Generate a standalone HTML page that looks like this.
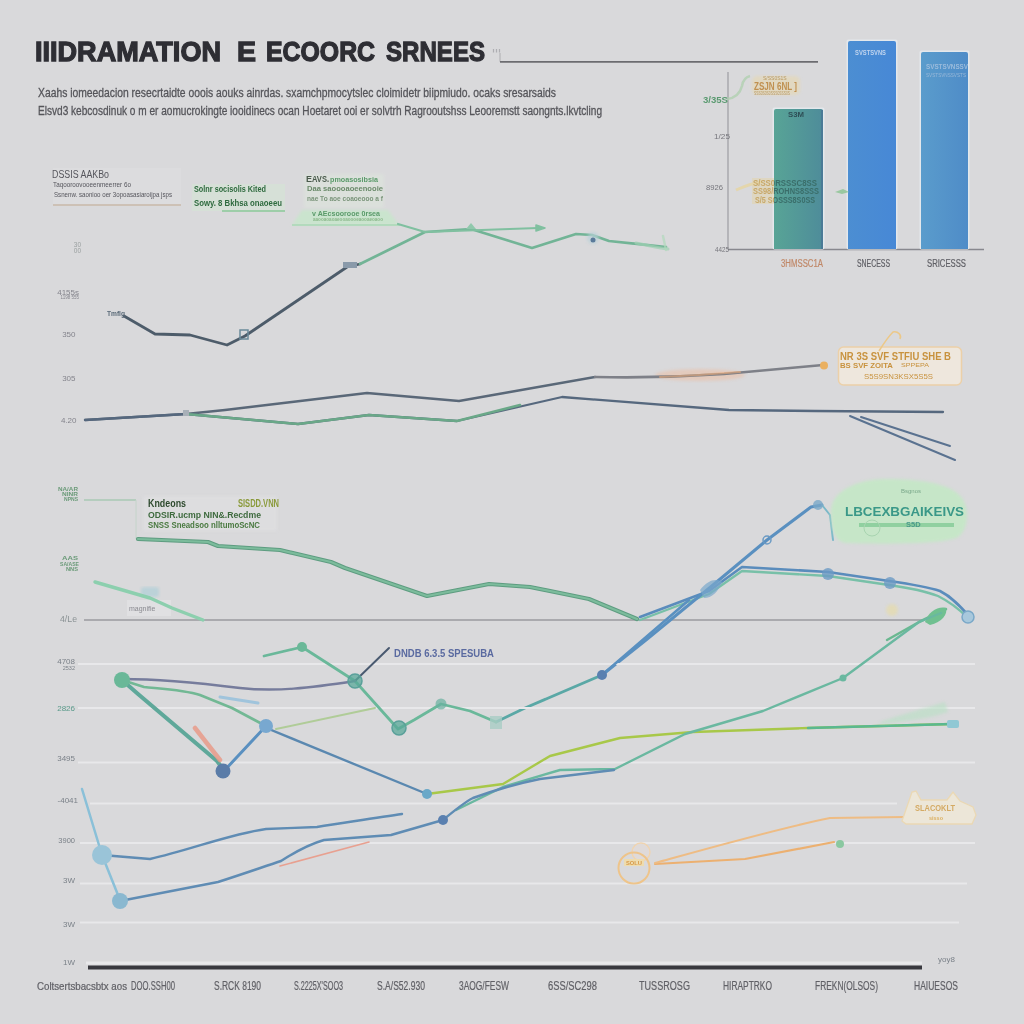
<!DOCTYPE html>
<html><head><meta charset="utf-8">
<style>
html,body{margin:0;padding:0;background:#d9d9db;}
body{width:1024px;height:1024px;overflow:hidden;}
svg{display:block;filter:blur(0.35px);}
text{font-family:"Liberation Sans",sans-serif;}
</style></head>
<body>
<svg width="1024" height="1024" viewBox="0 0 1024 1024">
<defs>
<filter id="soft" x="-10%" y="-10%" width="120%" height="120%"><feGaussianBlur stdDeviation="1.5"/></filter>
<filter id="b05" x="-5%" y="-5%" width="110%" height="110%"><feGaussianBlur stdDeviation="0.55"/></filter>
<linearGradient id="gTeal" x1="0" x2="1" y1="0" y2="0"><stop offset="0" stop-color="#58a496"/><stop offset="1" stop-color="#4e8c9a"/></linearGradient>
<linearGradient id="gBlue1" x1="0" x2="1" y1="0" y2="0"><stop offset="0" stop-color="#4c8ed2"/><stop offset="1" stop-color="#4788d6"/></linearGradient>
<linearGradient id="gBlue2" x1="0" x2="1" y1="0" y2="0"><stop offset="0" stop-color="#5a9ccc"/><stop offset="1" stop-color="#4f8cc8"/></linearGradient>
</defs>
<rect width="1024" height="1024" fill="#d9d9db"/>

<!-- TITLE -->
<g font-weight="bold" fill="#2e2e34" stroke="#2e2e34" stroke-width="1.3" font-size="28.5">
<text x="35" y="61" textLength="186" lengthAdjust="spacingAndGlyphs">IIIDRAMATION</text>
<text x="237" y="61" textLength="19" lengthAdjust="spacingAndGlyphs">E</text>
<text x="266" y="61" textLength="109" lengthAdjust="spacingAndGlyphs">ECOORC</text>
<text x="386" y="61" textLength="99" lengthAdjust="spacingAndGlyphs">SRNEES</text>
</g>
<path d="M493.5 49 V52.5 M496.5 49 V52.5 M499.5 49 V52.5" stroke="#aeaeb2" stroke-width="1.2" fill="none"/>
<path d="M500 53 V61.8" stroke="#b4b4b8" stroke-width="1.2" fill="none"/>
<path d="M500 61.8 H818" stroke="#6c6c70" stroke-width="1.7" fill="none"/>

<!-- SUBTITLE -->
<g fill="#55555a" stroke="#55555a" stroke-width="0.3" font-size="12.5">
<text x="38" y="97" textLength="518" lengthAdjust="spacingAndGlyphs">Xaahs iomeedacion resecrtaidte ooois aouks ainrdas. sxamchpmocytslec cloimidetr biipmiudo. ocaks sresarsaids</text>
<text x="38" y="115" textLength="564" lengthAdjust="spacingAndGlyphs">Elsvd3 kebcosdinuk o m er aomucrokingte iooidinecs ocan Hoetaret ooi er solvtrh Ragrooutshss Leooremstt saongnts.lkvtcling</text>
</g>

<!-- BAR CHART -->
<path d="M728 72 V249.5" stroke="#9c9ca2" stroke-width="1.2" fill="none"/>
<path d="M728 249.5 H984" stroke="#88888e" stroke-width="1.6" fill="none"/>
<g fill="#e4e8ec" filter="url(#b05)">
<rect x="772.5" y="107.5" width="52" height="142" rx="2"/>
<rect x="846.5" y="39.5" width="51" height="210" rx="2"/>
<rect x="919.5" y="50.5" width="50" height="199" rx="2"/>
</g>
<path d="M774 249 V111 Q774 109 776 109 H821 Q823 109 823 111 V249 Z" fill="url(#gTeal)"/>
<rect x="821" y="110" width="2" height="139" fill="#4a7a96"/>
<path d="M848 249 V43 Q848 41 850 41 H894 Q896 41 896 43 V249 Z" fill="url(#gBlue1)"/>
<path d="M921 249 V54 Q921 52 923 52 H966 Q968 52 968 54 V249 Z" fill="url(#gBlue2)"/>
<g font-size="8" fill="#76767c">
<text x="714" y="139" textLength="16" lengthAdjust="spacingAndGlyphs">1/25</text>
<text x="706" y="190" textLength="17" lengthAdjust="spacingAndGlyphs">8926</text>
<text x="715" y="252" textLength="14" lengthAdjust="spacingAndGlyphs">4425</text>
</g>
<g font-size="10" fill="#606066" stroke="#606066" stroke-width="0.2">
<text x="781" y="267" fill="#c08868" stroke="#c08868" textLength="42" lengthAdjust="spacingAndGlyphs">3HMSSC1A</text>
<text x="857" y="267" textLength="33" lengthAdjust="spacingAndGlyphs">SNECESS</text>
<text x="927" y="267" textLength="39" lengthAdjust="spacingAndGlyphs">SRICESSS</text>
</g>
<path d="M727 99 C735 98 740 94 742 86 C743 80 746 77 750 76" stroke="#b0d0b0" stroke-width="2.5" fill="none" opacity="0.8"/>
<text x="703" y="103" font-size="9.5" font-weight="bold" fill="#5a9a70" textLength="25" lengthAdjust="spacingAndGlyphs">3/35S</text>
<rect x="752" y="76" width="48" height="19" rx="5" fill="#e8d8ac" opacity="0.55" filter="url(#soft)"/>
<text x="763" y="80" font-size="5" fill="#b89860">S/SS0S1S</text>
<text x="754" y="90" font-size="10" font-weight="bold" fill="#c09050" textLength="43" lengthAdjust="spacingAndGlyphs">ZSJN 6NL ]</text>
<text x="754" y="94.5" font-size="5" fill="#b89860" textLength="36" lengthAdjust="spacingAndGlyphs">SSS0S0S0SSS0SSS0S</text>
<text x="788" y="117" font-size="8" font-weight="bold" fill="#2e4e56" textLength="16" lengthAdjust="spacingAndGlyphs">S3M</text>
<text x="855" y="55" font-size="8" font-weight="bold" fill="#c0d4ee" textLength="31" lengthAdjust="spacingAndGlyphs">SVSTSVNS</text>
<text x="926" y="69" font-size="8" font-weight="bold" fill="#9cbcdc" textLength="42" lengthAdjust="spacingAndGlyphs">SVSTSVNSSV</text>
<text x="926" y="77" font-size="6" fill="#98b8d8" textLength="40" lengthAdjust="spacingAndGlyphs">SVSTSVNSSVSTS</text>
<clipPath id="cBar"><rect x="774" y="109" width="49" height="140"/></clipPath>
<clipPath id="cOff"><rect x="700" y="150" width="74" height="70"/><rect x="823" y="150" width="30" height="70"/></clipPath>
<path d="M736 190 C745 186 752 183 762 182" stroke="#e6d4a0" stroke-width="3" fill="none" opacity="0.8"/>
<rect x="752" y="178" width="22" height="26" fill="#e4d4a8" opacity="0.5"/>
<g font-size="8.5" font-weight="bold">
<g fill="#c8a868" clip-path="url(#cOff)">
<text x="753" y="186" textLength="64" lengthAdjust="spacingAndGlyphs">S/SS0RSSSC8SS</text>
<text x="753" y="194" textLength="66" lengthAdjust="spacingAndGlyphs">SS98/ROHNS8SSS</text>
<text x="755" y="203" textLength="60" lengthAdjust="spacingAndGlyphs">S/5 SOSSS8S0SS</text>
</g>
<g fill="#3a6e6a" clip-path="url(#cBar)">
<text x="753" y="186" textLength="64" lengthAdjust="spacingAndGlyphs">S/SS0RSSSC8SS</text>
<text x="753" y="194" textLength="66" lengthAdjust="spacingAndGlyphs">SS98/ROHNS8SSS</text>
<text x="755" y="203" textLength="60" lengthAdjust="spacingAndGlyphs">S/5 SOSSS8S0SS</text>
</g>
</g>
<path d="M835 192 L843 189 L849 192 L842 194 Z" fill="#9ac8a0"/>

<!-- UPPER CHART -->
<g font-size="8" fill="#84848c" text-anchor="end">
<text x="81" y="247" font-size="6.5" fill="#9aa0a0">30</text>
<text x="81" y="253" font-size="6.5" fill="#9aa0a0">00</text>
<text x="79" y="295">4155s</text>
<text x="79" y="299" font-size="4.5">1198 555</text>
<text x="75.5" y="337">350</text>
<text x="75.5" y="381">305</text>
<text x="76.5" y="423">4.20</text>
</g>
<!-- annotation boxes -->
<rect x="53" y="168" width="128" height="37" fill="#dcdcde"/>
<rect x="192" y="184" width="93" height="27" fill="#d4e2d6" opacity="0.7"/>
<line x1="53" y1="205" x2="181" y2="205" stroke="#c8b8a8" stroke-width="1.5"/>
<g fill="#55555c">
<text x="52" y="178" font-size="10" textLength="57" lengthAdjust="spacingAndGlyphs">DSSIS AAKBo</text>
<text x="53" y="187" font-size="8" textLength="78" lengthAdjust="spacingAndGlyphs">Taqooroovooeenmeerrer 6o</text>
<text x="54" y="197" font-size="8" textLength="118" lengthAdjust="spacingAndGlyphs">Ssnenw. saonioo oer 3opoasasiaroijpa jsps</text>
</g>
<g fill="#2e6a3e" font-weight="bold">
<text x="194" y="192" font-size="9.5" textLength="72" lengthAdjust="spacingAndGlyphs">Solnr socisolis Kited</text>
<text x="194" y="206" font-size="9.5" textLength="88" lengthAdjust="spacingAndGlyphs">Sowy. 8 Bkhsa onaoeeu</text>
</g>
<line x1="222" y1="211" x2="285" y2="211" stroke="#8ac898" stroke-width="1.5"/>
<rect x="304" y="174" width="80" height="34" fill="#dce2dc" opacity="0.8" filter="url(#soft)"/>
<path d="M292,225 L302,210 L388,210 L399,225 Z" fill="#cae4ce" filter="url(#soft)"/>
<line x1="292" y1="225" x2="400" y2="225" stroke="#a8d8b4" stroke-width="1.6"/>
<g fill="#5a9a6a" font-size="7.5" font-weight="bold">
<text x="306" y="182" textLength="6" fill="#4a5a4c" font-size="9" lengthAdjust="spacingAndGlyphs">E</text>
<text x="312" y="182" textLength="17" fill="#4a5a4c" font-size="9" lengthAdjust="spacingAndGlyphs">AVS.</text>
<text x="330" y="182" textLength="48" lengthAdjust="spacingAndGlyphs">pmoasosibsia</text>
<text x="307" y="191" textLength="76" lengthAdjust="spacingAndGlyphs" fill="#6a8a6a">Daa saoooaoeenooie</text>
<text x="307" y="201" textLength="76" lengthAdjust="spacingAndGlyphs" fill="#7a947a">nae To aoe coaoeooo a f</text>
<text x="312" y="216" textLength="68" lengthAdjust="spacingAndGlyphs">v AEcsoorooe 0rsea</text>
<text x="313" y="221" font-size="5" textLength="70" lengthAdjust="spacingAndGlyphs" fill="#8ab88a">aaooaoaoaeooaoooeaooaeoaoo</text>
</g>

<!-- upper chart lines -->
<g fill="none" stroke-linejoin="round" stroke-linecap="round" filter="url(#b05)">
<polyline points="124,316 155,334 190,335 227,345 245,336 347,267 360,264" stroke="#4e5c6a" stroke-width="2.8"/>
<polyline points="360,264 425,232 471,229 532,248 576,234 592,235 609,241 666,247" stroke="#72b496" stroke-width="2.6"/>
<polyline points="398,224 425,232 538,228" stroke="#80c0a0" stroke-width="2.2"/>
<path d="M536,225 L545,228 L536,231 Z" fill="#80c0a0" stroke="#80c0a0" stroke-width="1.5"/>
<path d="M466,229 L471,223 L476,229 Z" fill="#90c8ac" stroke="none"/>
<path d="M636,243 C650,246 660,248 668,249" stroke="#a0d0b4" stroke-width="3" opacity="0.7"/>
<path d="M663,236 L666,250" stroke="#b0d8bc" stroke-width="2.5" opacity="0.7"/>
<!-- middle-upper pair -->
<polyline points="85,420 186,414 225,410 367,393 459,401 595,377" stroke="#5a6878" stroke-width="2.4"/>
<ellipse cx="700" cy="375" rx="45" ry="6" fill="#f0b898" stroke="none" opacity="0.45" filter="url(#soft)"/>
<path d="M595,377 C640,378 680,377 724,374 L823,365" stroke="#7e8088" stroke-width="2.6"/>
<path d="M660,377 C690,376 710,374 740,372" stroke="#e8a878" stroke-width="2" opacity="0.6"/>
<polyline points="85,420 186,414 298,424 369,415 457,421 562,397 729,410 815,411 943,412" stroke="#56687e" stroke-width="2.3"/>
<polyline points="186,414 298,424 369,415 457,421 520,405" stroke="#6aa888" stroke-width="2.6"/>
<polyline points="861,417 950,446" stroke="#5a7290" stroke-width="2"/>
<polyline points="850,416 955,460" stroke="#5a7290" stroke-width="2"/>
</g>
<circle cx="824" cy="365.5" r="4" fill="#eab060" filter="url(#b05)"/>
<text x="107" y="316" font-size="8" font-weight="bold" fill="#5a6a78" textLength="18" lengthAdjust="spacingAndGlyphs">Tmflg</text>
<rect x="240" y="330" width="8" height="9" fill="none" stroke="#6a8a9a" stroke-width="1.5"/>
<circle cx="593" cy="238" r="6" fill="#b8d0d8" opacity="0.7" filter="url(#soft)"/>
<circle cx="593" cy="240" r="2.5" fill="#5a7a9a"/>
<rect x="343" y="262" width="14" height="6" fill="#8a9aaa"/>
<rect x="183" y="410" width="6" height="6" fill="#a8b0b8"/>

<!-- orange annotation box -->
<rect x="838.5" y="347" width="123" height="38" rx="5" fill="#eee7dd" stroke="#ecd0a8" stroke-width="1.5"/>
<path d="M879 351 C884 343 889 336 893 332 C898 331 902 335 900 339" stroke="#ecc888" stroke-width="1.5" fill="none"/>
<g fill="#c8923e" font-weight="bold">
<text x="840" y="360" font-size="10.5" textLength="111" lengthAdjust="spacingAndGlyphs">NR 3S SVF STFIU SHE B</text>
<text x="840" y="368" font-size="7.5" textLength="53" lengthAdjust="spacingAndGlyphs">BS SVF ZOITA</text>
<text x="901" y="367" font-size="6" font-weight="normal" textLength="28" lengthAdjust="spacingAndGlyphs">SPPEPA</text>
<text x="864" y="378.5" font-size="8" font-weight="normal" textLength="69" lengthAdjust="spacingAndGlyphs">S5S9SN3KSX5S5S</text>
</g>

<!-- MIDDLE CHART -->
<g font-size="5.5" fill="#6a9a78" font-weight="bold">
<text x="58" y="491" textLength="20" lengthAdjust="spacingAndGlyphs">NA/AR</text>
<text x="62" y="496" textLength="16" lengthAdjust="spacingAndGlyphs">NINR</text>
<text x="64" y="501" textLength="14" lengthAdjust="spacingAndGlyphs">NPNS</text>
<text x="62" y="560" textLength="16" lengthAdjust="spacingAndGlyphs">AAS</text>
<text x="60" y="566" textLength="19" lengthAdjust="spacingAndGlyphs">SA/ASE</text>
<text x="66" y="571" textLength="12" lengthAdjust="spacingAndGlyphs">NNS</text>
<text x="60" y="622" font-size="9.5" font-weight="normal" fill="#8a9294" textLength="17" lengthAdjust="spacingAndGlyphs">4/Le</text>
</g>
<path d="M84 500 H136" stroke="#a8c8b4" stroke-width="1.4" fill="none"/>
<path d="M136 500 V539" stroke="#c4d4ca" stroke-width="1" fill="none"/>
<rect x="143" y="496" width="134" height="35" fill="#dfdfe1" opacity="0.7" filter="url(#soft)"/>
<g font-weight="bold">
<text x="148" y="507" font-size="10" fill="#2e4a2e" textLength="38" lengthAdjust="spacingAndGlyphs">Kndeons</text>
<text x="238" y="507" font-size="10" fill="#8a9a3a" textLength="41" lengthAdjust="spacingAndGlyphs">SISDD.VNN</text>
<text x="148" y="518" font-size="9" fill="#3e6a3e" textLength="113" lengthAdjust="spacingAndGlyphs">ODSIR.ucmp  NIN&amp;.Recdme</text>
<text x="148" y="528" font-size="9" fill="#4a7a40" textLength="112" lengthAdjust="spacingAndGlyphs">SNSS Sneadsoo nlltumoScNC</text>
</g>
<line x1="84" y1="620" x2="923" y2="620" stroke="#7c7c82" stroke-width="1.2"/>
<rect x="127" y="600" width="44" height="16" fill="#e0e0e2" opacity="0.9"/>
<text x="129" y="611" font-size="7" fill="#8a8a90">magnifie</text>
<rect x="141" y="587" width="18" height="10" rx="3" fill="#b4d0d8" opacity="0.8" filter="url(#soft)"/>
<g fill="none" stroke-linejoin="round" stroke-linecap="round" filter="url(#b05)">
<polyline points="138,539 208,542 218,546 280,550 331,562 345,568 427,596 489,584 530,587 589,599 637,619" stroke="#5e9c80" stroke-width="4.2"/>
<polyline points="138,539 208,542 218,546 280,550 331,562 345,568 427,596 489,584 530,587 589,599 637,619" stroke="#7cbc9c" stroke-width="2.2"/>
<polyline points="95,582 150,598 172,608 203,620" stroke="#8ccfae" stroke-width="3.4"/>
<path d="M640,620 L709,594 L742,571 C780,573 810,575 828,576 L889,585 C910,588 925,591 938,596 C950,602 960,610 968,618" stroke="#78c0a8" stroke-width="2.4"/>
<path d="M640,617 L709,591 L742,567 C780,569 810,571 828,572 L889,581 C910,584 928,587 940,591 C952,597 961,607 969,616" stroke="#5a8cbc" stroke-width="2.6"/>
<polyline points="496,722 525,708 602,675" stroke="#5aa8a6" stroke-width="2.8"/>
<polyline points="602,675 646,640 713,585 767,540 811,507 822,505" stroke="#5a90c0" stroke-width="3"/>
<polyline points="822,505 830,515 833,540" stroke="#7ab8c8" stroke-width="2"/>
<polyline points="887,640 919,622 946,609" stroke="#6ab890" stroke-width="2.5"/>
</g>
<path d="M700,590 C708,580 716,578 722,582 C718,592 712,598 704,598 Z" fill="#7aa8cc" opacity="0.7" filter="url(#b05)"/>
<circle cx="767" cy="540" r="4" fill="none" stroke="#6a9ac4" stroke-width="1.5"/>
<circle cx="818" cy="505" r="5" fill="#7aa8c8" opacity="0.8" filter="url(#b05)"/>
<circle cx="828" cy="574" r="6" fill="#6a9ac4" fill-opacity="0.8" filter="url(#b05)"/>
<circle cx="890" cy="583" r="6" fill="#6a9ac4" fill-opacity="0.8" filter="url(#b05)"/>
<circle cx="968" cy="617" r="6" fill="#a8c8dc" stroke="#7aa8c8" stroke-width="1.5" filter="url(#b05)"/>
<path d="M925,622 C928,612 938,606 946,608 C948,614 942,622 930,625 Z" fill="#70c090" filter="url(#b05)"/>
<circle cx="892" cy="610" r="6" fill="#e6dcaa" opacity="0.7" filter="url(#soft)"/>
<!-- green ellipse label -->
<path d="M831,511 C831,490 860,479 885,479 C915,479 950,482 962,498 C970,510 968,530 958,537 C945,545 870,544 846,543 C835,542 831,530 831,511 Z" fill="#c6e6c8" filter="url(#soft)"/>
<text x="901" y="493" font-size="6" fill="#7aa88a">Bsgnos</text>
<text x="845" y="516" font-size="13" font-weight="bold" fill="#3a9888" textLength="119" lengthAdjust="spacingAndGlyphs">LBCEXBGAIKEIVS</text>
<line x1="859" y1="525" x2="954" y2="525" stroke="#90d0a0" stroke-width="4"/>
<text x="906" y="527" font-size="7.5" font-weight="bold" fill="#4a9a8a">S5D</text>
<circle cx="872" cy="528" r="8" fill="none" stroke="#a8d4b0" stroke-width="1"/>

<!-- LOWER CHART gridlines -->
<g stroke="#e8e8ea" stroke-width="1.8">
<line x1="78" y1="664" x2="975" y2="664"/>
<line x1="78" y1="708" x2="975" y2="708"/>
<line x1="78" y1="762.5" x2="975" y2="762.5"/>
<line x1="90" y1="803.5" x2="897" y2="803.5"/>
<line x1="80" y1="843" x2="975" y2="843"/>
<line x1="80" y1="883.5" x2="967" y2="883.5"/>
<line x1="80" y1="922.5" x2="959" y2="922.5"/>
<line x1="86" y1="963" x2="922" y2="963" stroke-width="3"/>
</g>
<line x1="88" y1="967.5" x2="922" y2="967.5" stroke="#38383e" stroke-width="4.2"/>
<g font-size="8" fill="#7a8088" text-anchor="end">
<text x="75" y="664">4708</text>
<text x="75" y="670" font-size="5.5">2532</text>
<text x="75" y="711" fill="#5a9a8a">2826</text>
<text x="75" y="761">3495</text>
<text x="78" y="803">-4041</text>
<text x="75" y="843" font-size="7.5">3900</text>
<text x="75" y="883">3W</text>
<text x="75" y="927">3W</text>
<text x="75" y="965">1W</text>
<text x="938" y="962" text-anchor="start">yoy8</text>
</g>
<text x="394" y="657" font-size="11" font-weight="bold" fill="#5a6aa0" textLength="100" lengthAdjust="spacingAndGlyphs">DNDB 6.3.5 SPESUBA</text>
<g fill="none" stroke-linejoin="round" stroke-linecap="round" filter="url(#b05)">
<!-- green top line -->
<polyline points="264,656 302,647 355,681 398,729 414,720 441,704 470,711 496,722" stroke="#6ab89a" stroke-width="2.8"/>
<polyline points="355,681 389,648" stroke="#4a5a70" stroke-width="2"/>
<path d="M122,679 C160,679 200,683 240,688 C275,692 310,688 355,681" stroke="#767c9c" stroke-width="2.4"/>
<path d="M122,680 L144,687 C165,689 185,690 200,695 L232,708 L264,725" stroke="#72b894" stroke-width="2.6"/>
<polyline points="220,697 258,703" stroke="#a0c4dc" stroke-width="3"/>
<polyline points="276,729 375,708" stroke="#b0cc98" stroke-width="2"/>
<polyline points="122,680 138,694 217,761 223,769" stroke="#5ea89a" stroke-width="4"/>
<polyline points="195,728 220,760" stroke="#e89a88" stroke-width="4.5" opacity="0.85"/>
<polyline points="223,772 266,726" stroke="#5a90c0" stroke-width="3"/>
<polyline points="264,727 427,794" stroke="#5a88b0" stroke-width="2.4"/>
<polyline points="427,794 503,784 550,756 620,738 693,732 808,728 952,724" stroke="#a8c848" stroke-width="2.4"/>
<polyline points="808,728 952,724" stroke="#5ab890" stroke-width="2.4"/>
<polyline points="456,810 503,787 560,770 615,769 685,734 763,711 843,678 919,622 941,613" stroke="#6ab8a0" stroke-width="2.4"/>
<polyline points="602,675 689,600" stroke="#5a90c0" stroke-width="2.6"/>
<!-- lower blue lines -->
<polyline points="82,789 102,855 120,900" stroke="#8ac0d8" stroke-width="2.5"/>
<path d="M102,855 L150,859 C190,850 230,834 266,829 L317,827 C350,822 380,817 402,814" stroke="#5f8cb4" stroke-width="2.4"/>
<path d="M120,901 L218,882 C240,875 260,868 281,861 C295,852 310,844 324,840 L391,835 L443,820 C455,810 465,802 473,798 C495,790 520,783 540,779 L614,770" stroke="#5f8cb4" stroke-width="2.4"/>
<polyline points="280,866 369,842" stroke="#e8a090" stroke-width="1.6"/>
<!-- orange -->
<polyline points="655,864 745,859 834,842" stroke="#ecb070" stroke-width="2.2"/>
<path d="M655,863 C720,845 780,828 830,818 L905,817" stroke="#eebc84" stroke-width="2"/>
</g>
<circle cx="122" cy="680" r="8" fill="#6ab898" filter="url(#b05)"/>
<circle cx="302" cy="647" r="5" fill="#6ab898"/>
<circle cx="355" cy="681" r="7" fill="#5aa89a" fill-opacity="0.75" stroke="#5aa09a" stroke-width="1.5" filter="url(#b05)"/>
<circle cx="399" cy="728" r="7" fill="#5aa89a" fill-opacity="0.75" stroke="#5aa09a" stroke-width="1.5" filter="url(#b05)"/>
<circle cx="441" cy="704" r="5.5" fill="#6ab0a0" fill-opacity="0.7" filter="url(#b05)"/>
<rect x="490" y="716" width="12" height="13" fill="#a8ccc4" opacity="0.8"/>
<circle cx="223" cy="771" r="7.5" fill="#5a7ca8" filter="url(#b05)"/>
<circle cx="266" cy="726" r="7" fill="#78a8d0" filter="url(#b05)"/>
<circle cx="602" cy="675" r="5" fill="#5a80b0"/>
<circle cx="427" cy="794" r="5" fill="#6aa8c8"/>
<circle cx="443" cy="820" r="5" fill="#5a80b0"/>
<circle cx="102" cy="855" r="10" fill="#9ac4d8"/>
<circle cx="120" cy="901" r="8" fill="#8ab8d0"/>
<circle cx="843" cy="678" r="3.5" fill="#6ab8a0"/>
<path d="M880,722 C900,715 925,708 945,702 L948,712 C930,718 905,722 880,724 Z" fill="#b8e0c4" opacity="0.6" filter="url(#soft)"/>
<rect x="947" y="720" width="12" height="8" rx="2" fill="#90c8d4" filter="url(#b05)"/>
<g filter="url(#b05)">
<circle cx="641" cy="852" r="9" fill="#e6dcd8" fill-opacity="0.5" stroke="#f0d4b0" stroke-width="1.4"/>
<circle cx="634" cy="868" r="15.5" fill="none" stroke="#eec48a" stroke-width="2"/>
<rect x="624" y="859" width="20" height="7" fill="#eedcae"/>
<text x="626" y="865" font-size="6" font-weight="bold" fill="#d89a48" textLength="16" lengthAdjust="spacingAndGlyphs">SOLU</text>
</g>
<circle cx="840" cy="844" r="4" fill="#8ac8a0"/>
<path d="M902,821 L912,792 L916,791 L921,800 L947,800 L953,792 L960,801 L973,807 L976,815 L972,824 L906,824 Z" fill="#ece6d8" stroke="#ead8b4" stroke-width="1.3" filter="url(#b05)"/>
<text x="915" y="811" font-size="8.5" font-weight="bold" fill="#d4aa64" textLength="40" lengthAdjust="spacingAndGlyphs">SLACOKLT</text>
<text x="929" y="820" font-size="6" font-weight="bold" fill="#dcb060" textLength="14" lengthAdjust="spacingAndGlyphs">sisso</text>

<!-- x labels -->
<g font-size="12.5" fill="#606066" stroke="#606066" stroke-width="0.2">
<text x="37" y="990" font-size="10" textLength="90" lengthAdjust="spacingAndGlyphs">Coltsertsbacsbtx aos</text>
<text x="131" y="990" textLength="44" lengthAdjust="spacingAndGlyphs">DOO.SSH00</text>
<text x="214" y="990" textLength="47" lengthAdjust="spacingAndGlyphs">S.RCK 8190</text>
<text x="294" y="990" textLength="49" lengthAdjust="spacingAndGlyphs">S.2225X'SOO3</text>
<text x="377" y="990" textLength="48" lengthAdjust="spacingAndGlyphs">S.A/S52.930</text>
<text x="459" y="990" textLength="50" lengthAdjust="spacingAndGlyphs">3AOG/FESW</text>
<text x="548" y="990" textLength="49" lengthAdjust="spacingAndGlyphs">6SS/SC298</text>
<text x="639" y="990" textLength="51" lengthAdjust="spacingAndGlyphs">TUSSROSG</text>
<text x="723" y="990" textLength="49" lengthAdjust="spacingAndGlyphs">HIRAPTRKO</text>
<text x="815" y="990" textLength="63" lengthAdjust="spacingAndGlyphs">FREKN(OLSOS)</text>
<text x="914" y="990" textLength="44" lengthAdjust="spacingAndGlyphs">HAIUESOS</text>
</g>
</svg>
</body></html>
